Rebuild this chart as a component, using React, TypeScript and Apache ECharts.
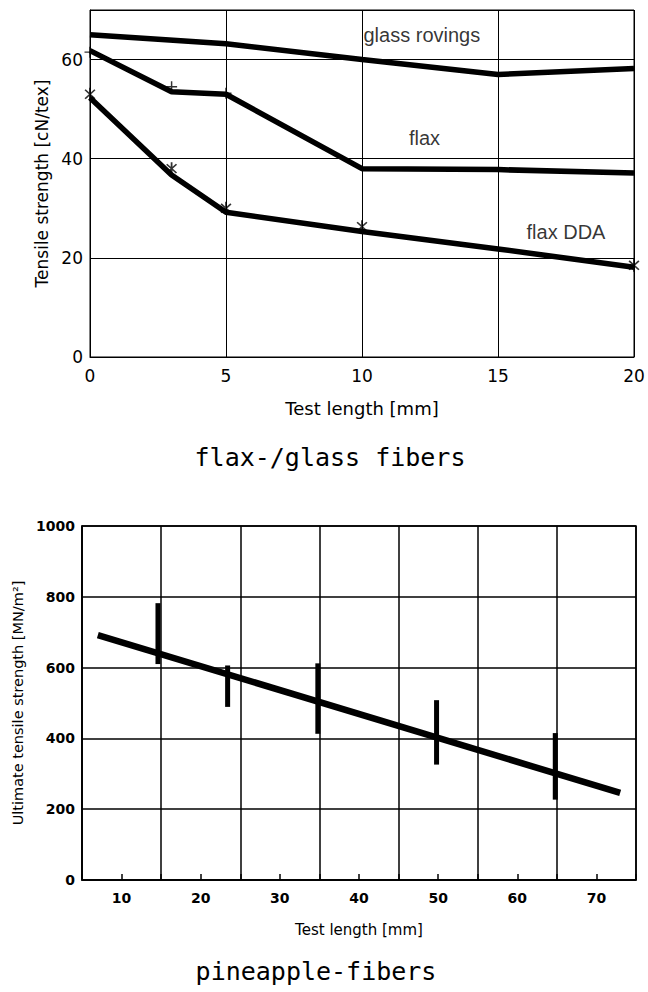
import React, { useEffect, useRef } from "react";
import * as echarts from "echarts";

// ---- flax-/glass fibers (top chart) ----
const glassX = [0, 5, 10, 15, 20];
const glassY = [65, 63.2, 60, 57, 58.2];
const flaxX = [0, 3, 5, 10, 15, 20];
const flaxY = [61.8, 53.5, 53, 38, 37.8, 37.1];
const ddaX = [0, 3, 5, 10, 15, 20];
const ddaY = [52.3, 36.7, 29.2, 25.3, 21.8, 18.1];
const flaxMarkX = [0, 3, 5];
const flaxMarkY = [61.5, 54.5, 53.2];
const ddaMarkX = [0, 3, 5, 10, 20];
const ddaMarkY = [53, 38, 30, 26.3, 18.5];
const annotTexts = ["glass rovings", "flax", "flax DDA"];
const annotX = [12.2, 12.3, 17.5];
const annotY = [65, 44.2, 25.3];

// ---- pineapple-fibers (bottom chart) ----
const pineTrendX = [7, 73];
const pineTrendY = [692, 246];
const pineBarX = [14.6, 23.4, 34.8, 49.8, 64.8];
const pineBarLow = [610, 489, 413, 326, 227];
const pineBarHigh = [782, 606, 612, 508, 415];

const zip = (a: number[], b: number[]) => a.map((v, i) => [v, b[i]]);

export default function App() {
  const ref = useRef<HTMLDivElement>(null);
  useEffect(() => {
    const chart = echarts.init(ref.current!, null, { renderer: "svg" });
    const sans = "DejaVu Sans";
    const asterisk =
      "path://M-0.8,-6L0.8,-6L0.8,6L-0.8,6Z M-5,-3.6L-3.9,-4.6L5,3.6L3.9,4.6Z M3.9,-4.6L5,-3.6L-3.9,4.6L-5,3.6Z";
    const plus = "path://M-0.8,-6L0.8,-6L0.8,6L-0.8,6Z M-6,-0.8L6,-0.8L6,0.8L-6,0.8Z";
    const blackLine = (w: number) => ({ show: true, lineStyle: { color: "#000", width: w } });

    const option: any = {
      animation: false,
      backgroundColor: "#fff",
      grid: [
        { left: 90, top: 10, width: 544, height: 347, show: true, borderColor: "#000", borderWidth: 1 },
        { left: 82, top: 526, width: 554, height: 354, show: true, borderColor: "#000", borderWidth: 1.5 },
      ],
      xAxis: [
        {
          gridIndex: 0, type: "value", min: 0, max: 20, interval: 5,
          axisLine: blackLine(1), axisTick: { show: false },
          splitLine: blackLine(1),
          axisLabel: { color: "#000", fontFamily: sans, fontSize: 17, margin: 10 },
          name: "Test length [mm]", nameLocation: "middle", nameGap: 42,
          nameTextStyle: { color: "#000", fontFamily: sans, fontSize: 18 },
        },
        {
          gridIndex: 1, type: "value", min: 5, max: 75, interval: 10, position: "bottom",
          axisLine: blackLine(1.5), axisTick: { show: false },
          splitLine: blackLine(1.5),
          axisLabel: { show: false },
          name: "Test length [mm]", nameLocation: "middle", nameGap: 42,
          nameTextStyle: { color: "#000", fontFamily: sans, fontSize: 15 },
        },
        {
          gridIndex: 1, type: "value", min: 5, max: 75, interval: 5, position: "bottom",
          axisLine: { show: false },
          axisTick: { show: true, inside: true, length: 6, lineStyle: { color: "#000", width: 1.5 } },
          splitLine: { show: false },
          axisLabel: {
            color: "#000", fontFamily: sans, fontSize: 14, fontWeight: "bold", margin: 11,
            formatter: (v: number) => (v % 10 === 0 ? String(v) : ""),
          },
        },
      ],
      yAxis: [
        {
          gridIndex: 0, type: "value", min: 0, max: 70, interval: 20,
          axisLine: blackLine(1), axisTick: { show: false },
          splitLine: blackLine(1),
          axisLabel: { color: "#000", fontFamily: sans, fontSize: 17, margin: 7, showMaxLabel: false },
          name: "Tensile strength [cN/tex]", nameLocation: "middle", nameGap: 38,
          nameTextStyle: { color: "#000", fontFamily: sans, fontSize: 17 },
        },
        {
          gridIndex: 1, type: "value", min: 0, max: 1000, interval: 200,
          axisLine: blackLine(1.5), axisTick: { show: false },
          splitLine: blackLine(1.5),
          axisLabel: {
            color: "#000", fontFamily: sans, fontSize: 14, fontWeight: "bold", margin: 7,
            formatter: (v: number) => String(v),
          },
          name: "Ultimate tensile strength [MN/m²]", nameLocation: "middle", nameGap: 55,
          nameTextStyle: { color: "#000", fontFamily: sans, fontSize: 14.5 },
        },
      ],
      graphic: [
        {
          type: "text", x: 330, y: 457,
          style: { text: "flax-/glass fibers", fill: "#000", fontFamily: "DejaVu Sans Mono", fontSize: 25, align: "center", verticalAlign: "middle" },
        },
        {
          type: "text", x: 316, y: 971,
          style: { text: "pineapple-fibers", fill: "#000", fontFamily: "DejaVu Sans Mono", fontSize: 25, align: "center", verticalAlign: "middle" },
        },
      ],
      series: [
        {
          name: "glass rovings", type: "line", xAxisIndex: 0, yAxisIndex: 0, data: zip(glassX, glassY),
          symbol: "none", lineStyle: { color: "#000", width: 5.5 },
        },
        {
          name: "flax", type: "line", xAxisIndex: 0, yAxisIndex: 0, data: zip(flaxX, flaxY),
          symbol: "none", lineStyle: { color: "#000", width: 5.5 },
        },
        {
          name: "flax DDA", type: "line", xAxisIndex: 0, yAxisIndex: 0, data: zip(ddaX, ddaY),
          symbol: "none", lineStyle: { color: "#000", width: 5.5 },
        },
        {
          name: "flax points", type: "scatter", xAxisIndex: 0, yAxisIndex: 0, data: zip(flaxMarkX, flaxMarkY),
          symbol: plus, symbolSize: 11, itemStyle: { color: "#000" },
        },
        {
          name: "flax DDA points", type: "scatter", xAxisIndex: 0, yAxisIndex: 0, data: zip(ddaMarkX, ddaMarkY),
          symbol: asterisk, symbolSize: [11, 13], itemStyle: { color: "#000" },
        },
        {
          name: "labels", type: "scatter", xAxisIndex: 0, yAxisIndex: 0, symbolSize: 0,
          data: annotTexts.map((t, i) => ({ name: t, value: [annotX[i], annotY[i]] })),
          label: {
            show: true, position: "inside", formatter: "{b}", color: "#000",
            fontFamily: "Liberation Sans", fontSize: 20,
          },
        },
        {
          name: "trend", type: "line", xAxisIndex: 1, yAxisIndex: 1, data: zip(pineTrendX, pineTrendY),
          symbol: "none", lineStyle: { color: "#000", width: 6.5 },
        },
        {
          name: "scatter range", type: "custom", xAxisIndex: 1, yAxisIndex: 1,
          data: pineBarX.map((x, i) => [x, pineBarLow[i], pineBarHigh[i]]),
          encode: { x: 0, y: [1, 2] },
          renderItem: (params: any, api: any) => {
            const p1 = api.coord([api.value(0), api.value(1)]);
            const p2 = api.coord([api.value(0), api.value(2)]);
            return {
              type: "line",
              shape: { x1: p1[0], y1: p1[1], x2: p2[0], y2: p2[1] },
              style: { stroke: "#000", lineWidth: 5 },
            };
          },
        },
      ],
    };
    chart.setOption(option);
    return () => chart.dispose();
  }, []);
  return (
    <div
      ref={ref}
      style={{ position: "absolute", left: 0, top: 0, width: 648, height: 992, background: "#fff" }}
    />
  );
}
